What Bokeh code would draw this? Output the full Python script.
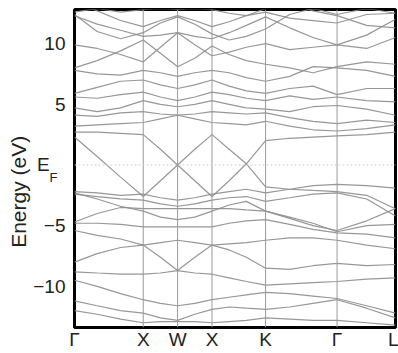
from bokeh.plotting import figure
from bokeh.models import FixedTicker, Span, LinearAxis
from bokeh.embed import file_html
from bokeh.resources import INLINE

# k-path positions (high-symmetry points and sampled points between)
K_PATH = [0, 0.33, 0.67, 1.0, 1.25, 1.5, 1.75, 2.0, 2.25, 2.5, 2.78, 3.13, 3.47, 3.82, 4.25, 4.67]
K_TICKS = [0, 1.0, 1.5, 2.0, 2.78, 3.82, 4.67]
K_TICK_LABELS = ["Γ", "X", "W", "X", "K", "Γ", "L"]
E_TICKS = [10, 5, 0, -5, -10]
E_TICK_LABELS = ["10", "5", "E", "−5", "−10"]
EF_SUB_POS = -1.05
EF_SUB_LABEL = "F"

# bands (eV) read along the path
band_c0 = [13.5, 12.7, 11.9, 11.4, 11.9, 12.3, 11.9, 11.4, 11.8, 12.3, 12.9, 13.3, 12.7, 12.3, 11.5, 11.3]
band_c1 = [12.6, 12.9, 12.6, 12.8, 12.9, 12.8, 12.9, 12.8, 12.5, 12.3, 12.6, 12.1, 11.9, 11.7, 12.4, 12.5]
band_c2 = [12.3, 11.6, 11.1, 10.6, 10.7, 10.9, 10.6, 10.4, 10.9, 11.5, 12.2, 11.3, 10.5, 9.9, 10.7, 12.0]
band_c3 = [9.9, 9.6, 9.1, 8.5, 9.7, 10.9, 9.9, 9.0, 9.3, 9.7, 10.0, 9.5, 9.7, 9.9, 9.6, 10.5]
band_c4 = [8.0, 8.6, 9.4, 10.3, 9.2, 8.1, 8.8, 9.8, 9.1, 8.6, 8.3, 8.0, 7.6, 8.1, 8.5, 8.3]
band_c5 = [7.8, 7.5, 7.4, 7.8, 7.6, 7.3, 7.6, 7.8, 7.6, 7.2, 6.9, 7.3, 8.1, 8.0, 7.8, 7.3]
band_c6 = [5.9, 6.4, 6.9, 7.0, 6.6, 6.3, 6.6, 7.0, 6.5, 6.1, 5.9, 6.3, 6.5, 5.8, 6.3, 6.3]
band_c7 = [5.6, 5.5, 5.8, 6.0, 5.6, 5.3, 5.6, 6.0, 5.8, 5.5, 5.3, 5.7, 5.4, 5.6, 5.3, 5.2]
band_c8 = [4.7, 4.4, 4.7, 5.3, 5.0, 4.8, 5.0, 5.3, 5.0, 4.7, 4.6, 4.4, 4.8, 4.9, 4.6, 4.1]
band_c9 = [4.1, 4.0, 4.3, 4.4, 4.2, 4.1, 4.2, 4.4, 4.3, 4.2, 4.3, 3.9, 3.6, 3.4, 3.7, 3.5]
band_c10 = [3.2, 3.3, 3.4, 3.5, 3.8, 4.1, 3.8, 3.5, 3.4, 3.3, 3.6, 3.2, 2.9, 2.8, 3.0, 3.3]
band_c11 = [2.7, 2.7, 2.6, 2.5, 1.3, 0.0, 1.3, 2.5, 1.3, 0.1, -1.8, -2.0, -2.1, -2.2, -2.5, -3.6]
band_c12 = [2.3, 0.7, -1.0, -2.6, -1.3, 0.0, -1.3, -2.6, -1.3, 0.1, 2.0, 2.2, 2.3, 2.4, 2.5, 2.7]
band_c13 = [12.4, 11.0, 10.4, 10.9, 11.7, 12.2, 11.6, 10.8, 10.3, 10.6, 11.2, 12.4, 12.9, 12.4, 12.9, 12.5]
band_v1 = [-2.2, -2.3, -2.5, -2.4, -2.7, -2.9, -2.7, -2.4, -2.2, -2.0, -2.3, -2.0, -1.7, -1.6, -1.7, -1.9]
band_v2 = [-2.4, -2.6, -2.8, -2.9, -3.2, -3.4, -3.2, -2.9, -2.7, -2.6, -3.0, -2.7, -2.4, -2.3, -2.8, -4.2]
band_v3 = [-4.7, -4.0, -3.5, -3.6, -3.6, -3.6, -3.6, -3.6, -3.6, -3.7, -3.8, -4.3, -4.8, -5.5, -5.0, -4.9]
band_v4 = [-4.8, -4.8, -4.9, -5.1, -5.1, -5.1, -5.1, -5.1, -4.8, -4.6, -4.5, -4.9, -5.3, -5.6, -5.7, -6.0]
band_v5 = [-5.4, -5.8, -6.1, -6.6, -6.4, -6.2, -6.4, -6.6, -6.5, -6.4, -6.2, -6.0, -6.0, -6.2, -6.6, -6.9]
band_v6 = [-8.0, -7.3, -6.8, -6.6, -7.6, -8.7, -7.6, -6.6, -7.0, -7.6, -8.5, -8.6, -8.3, -8.1, -8.3, -8.2]
band_v7 = [-8.8, -8.9, -9.0, -9.0, -8.9, -8.7, -8.9, -9.0, -9.3, -9.6, -9.9, -9.8, -9.7, -9.6, -9.4, -9.3]
band_v8 = [-9.5, -10.0, -10.6, -11.1, -11.4, -11.6, -11.4, -11.1, -10.9, -10.7, -10.5, -10.6, -10.8, -11.0, -11.6, -12.2]
band_v9 = [-11.2, -11.6, -12.0, -12.2, -12.6, -12.8, -12.3, -11.9, -11.7, -11.8, -11.9, -11.7, -11.4, -11.1, -11.8, -12.6]
band_v10 = [-12.0, -12.3, -12.7, -13.0, -12.9, -12.9, -12.9, -13.0, -12.9, -12.8, -12.6, -12.7, -12.8, -12.8, -13.0, -13.2]
band_v11 = [-2.3, -2.8, -3.4, -3.8, -4.3, -4.5, -4.3, -3.8, -3.3, -3.0, -3.8, -4.4, -5.0, -5.4, -4.6, -3.6]

BANDS = [band_c0, band_c1, band_c2, band_c3, band_c4, band_c5, band_c6, band_c7,
         band_c8, band_c9, band_c10, band_c11, band_c12, band_c13, band_v1, band_v2,
         band_v3, band_v4, band_v5, band_v6, band_v7, band_v8, band_v9, band_v10, band_v11]

FONT = "Liberation Sans"
TXT = "#222222"

p = figure(width=398, height=353, output_backend="svg", toolbar_location=None,
           x_range=(0, 4.67), y_range=(-13.39, 12.81), y_axis_location=None,
           min_border_left=74, min_border_right=3, min_border_top=9, min_border_bottom=26)

p.xgrid.visible = False
p.ygrid.visible = False
p.outline_line_color = "black"
p.outline_line_width = 3
p.background_fill_color = "white"

# high-symmetry vertical lines
for kx in K_TICKS[1:-1]:
    p.add_layout(Span(location=kx, dimension="height", line_color="#9a9a9a", line_width=1))

# Fermi level
p.add_layout(Span(location=0, dimension="width", line_color="#d0d0d0", line_width=1, line_dash="2 2"))

for b in BANDS:
    p.line(K_PATH, b, line_color="#8c8c8c", line_width=1.2, line_alpha=0.9)


def plain(ax, size):
    ax.axis_line_color = None
    ax.major_tick_line_color = None
    ax.minor_tick_line_color = None
    ax.major_tick_out = 0
    ax.major_tick_in = 0
    ax.minor_tick_out = 0
    ax.minor_tick_in = 0
    ax.major_label_text_font = FONT
    ax.major_label_text_font_size = size
    ax.major_label_text_color = TXT


# x axis
p.xaxis.ticker = FixedTicker(ticks=K_TICKS)
p.xaxis.major_label_overrides = {t: l for t, l in zip(K_TICKS, K_TICK_LABELS)}
plain(p.xaxis[0], "19px")
p.xaxis.axis_label = None
p.xaxis.axis_label_standoff = 0
p.xaxis.major_label_standoff = 1

# main y axis
overrides = {t: l for t, l in zip(E_TICKS, E_TICK_LABELS)}
overrides[0] = "E" + "\u00a0" * 3
yax = LinearAxis(ticker=FixedTicker(ticks=E_TICKS), major_label_overrides=overrides)
plain(yax, "19px")
yax.major_label_standoff = 9
yax.axis_label = "Energy (eV)" + "\u00a0" * 8
yax.axis_label_text_font = FONT
yax.axis_label_text_font_size = "21px"
yax.axis_label_text_font_style = "normal"
yax.axis_label_text_color = TXT
yax.axis_label_standoff = 0
p.add_layout(yax, "left")

# subscript F of E_F
fax = LinearAxis(ticker=FixedTicker(ticks=[EF_SUB_POS]),
                 major_label_overrides={EF_SUB_POS: EF_SUB_LABEL})
plain(fax, "13px")
fax.major_label_standoff = -53
p.add_layout(fax, "left")

open("out.html", "w").write(file_html(p, INLINE))
